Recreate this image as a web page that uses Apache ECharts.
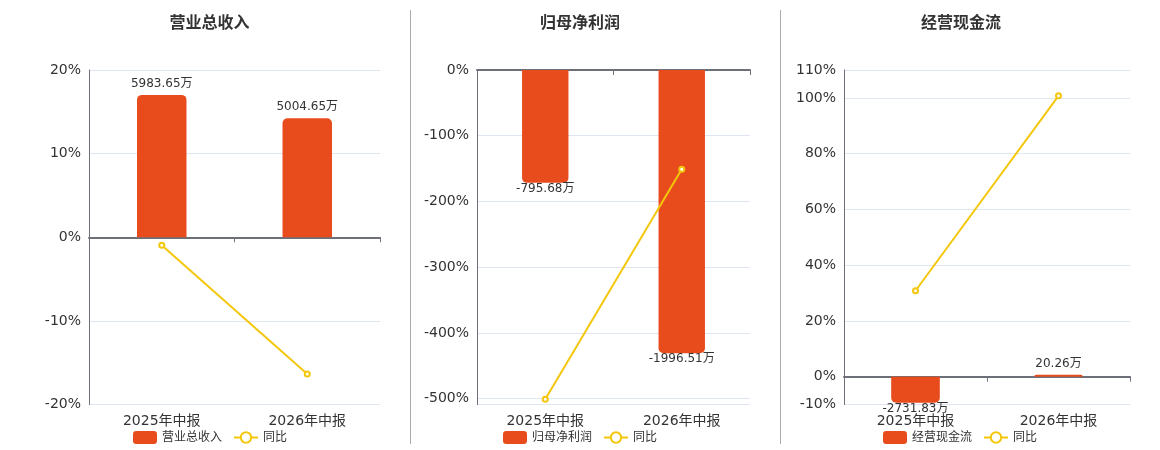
<!DOCTYPE html>
<html>
<head>
<meta charset="utf-8">
<script src="https://cdn.jsdelivr.net/npm/echarts@6/dist/echarts.min.js"></script>
<style>
html,body{margin:0;padding:0;background:#fff;}
#main{width:1160px;height:450px;}
</style>
</head>
<body>
<div id="main"></div>
<script>
// ---- data ----
const categories = ['2025年中报', '2026年中报'];
const titles = ['营业总收入', '归母净利润', '经营现金流'];
const revenue = [5983.65, 5004.65];
const revenueYoY = [-0.95, -16.36];
const netProfit = [-795.68, -1996.51];
const netProfitYoY = [-501, -150.92];
const cashFlow = [-2731.83, 20.26];
const cashFlowYoY = [30.8, 100.74];

const barValues = [revenue, netProfit, cashFlow];
const yoyValues = [revenueYoY, netProfitYoY, cashFlowYoY];

// ---- layout / style ----
const FONT = "'DejaVu Sans', 'Noto Sans CJK SC', sans-serif";
const BAR_COLOR = '#E84B1C';
const LINE_COLOR = '#F4C70C';
const grids = [
  {left: 89, width: 291, top: 70, height: 334.5},
  {left: 477, width: 273, top: 70, height: 334.5},
  {left: 844, width: 286, top: 70, height: 334.5}
];
const pctRanges = [{min: -20, max: 20}, {min: -509, max: 0}, {min: -10, max: 110}];
const barRanges = [{min: -7030, max: 7030}, {min: -2358, max: 0}, {min: -2927, max: 32197}];
const titleCenters = [204.5, 575, 956];
const legendLefts = [128, 498, 878];

const option = {
  animation: false,
  textStyle: {fontFamily: FONT},
  title: titles.map((t, i) => ({
    text: t, left: titleCenters[i], top: 11, textAlign: 'center',
    textStyle: {fontSize: 16, fontWeight: 'bold', color: '#333', fontFamily: FONT}
  })),
  legend: titles.map((t, i) => ({
    data: [t, '同比'], left: legendLefts[i], top: 426,
    itemWidth: 24, itemHeight: 13, itemGap: 11,
    textStyle: {fontSize: 12, color: '#333', fontFamily: FONT}
  })),
  grid: grids,
  xAxis: [],
  yAxis: [],
  series: [],
  graphic: [410, 780].map(x => ({
    type: 'line', shape: {x1: x + 0.5, y1: 10, x2: x + 0.5, y2: 444},
    style: {stroke: '#aaaaaa', lineWidth: 1}
  }))
};

for (let i = 0; i < 3; i++) {
  // x axis drawn at zero (line + ticks)
  option.xAxis.push({
    type: 'category', gridIndex: i, data: categories,
    axisLine: {show: true, onZero: true, onZeroAxisIndex: 2 * i, lineStyle: {color: '#6E7079', width: 2}},
    axisTick: {show: true, lineStyle: {color: '#6E7079'}},
    axisLabel: {show: false}
  });
  // x axis for labels at bottom
  option.xAxis.push({
    type: 'category', gridIndex: i, data: categories, position: 'bottom',
    axisLine: {show: false, onZero: false}, axisTick: {show: false},
    axisLabel: {show: true, fontSize: 14, color: '#333', margin: 10, fontFamily: FONT}
  });
  option.yAxis.push({
    type: 'value', gridIndex: i, min: pctRanges[i].min, max: pctRanges[i].max,
    axisLine: {show: true, lineStyle: {color: '#6E7079'}},
    axisTick: {show: false},
    axisLabel: {formatter: '{value}%', fontSize: 14, color: '#333', fontFamily: FONT},
    splitLine: {show: true, lineStyle: {color: '#E0E6F1'}}
  });
  option.yAxis.push({
    type: 'value', gridIndex: i, min: barRanges[i].min, max: barRanges[i].max,
    show: false, splitLine: {show: false}
  });
  option.series.push({
    name: titles[i], type: 'bar', xAxisIndex: 2 * i, yAxisIndex: 2 * i + 1,
    barWidth: '34%', barMinHeight: 2,
    itemStyle: {color: BAR_COLOR},
    data: barValues[i].map(v => ({
      value: v,
      itemStyle: {borderRadius: v >= 0 ? [5, 5, 0, 0] : [0, 0, 5, 5]},
      label: {position: v >= 0 ? 'top' : 'bottom', distance: v >= 0 ? 5 : 0}
    })),
    label: {
      show: true, fontSize: 12, color: '#333', fontFamily: FONT,
      formatter: p => p.value + '万'
    },
    z: 2
  });
  option.series.push({
    name: '同比', type: 'line', xAxisIndex: 2 * i, yAxisIndex: 2 * i,
    data: yoyValues[i], symbol: 'emptyCircle', symbolSize: 5,
    lineStyle: {color: LINE_COLOR, width: 2},
    itemStyle: {color: LINE_COLOR, borderWidth: 1.5},
    z: 3
  });
}

const chart = echarts.init(document.getElementById('main'));
chart.setOption(option);
</script>
</body>
</html>
